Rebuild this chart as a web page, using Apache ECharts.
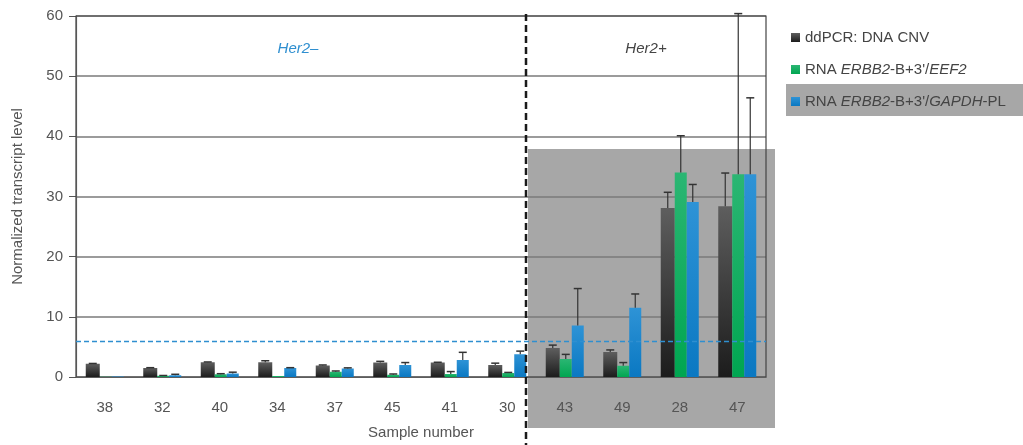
<!DOCTYPE html>
<html><head><meta charset="utf-8">
<script src="https://cdn.jsdelivr.net/npm/echarts@6/dist/echarts.min.js"></script>
<style>html,body{margin:0;padding:0;background:#fff}#c{width:1023px;height:445px}</style>
</head><body><div id="c"></div>
<script>
const categories = ['38','32','40','34','37','45','41','30','43','49','28','47'];
const dnaCnv   = [2.2, 1.5, 2.45, 2.45, 1.9, 2.4, 2.4, 2.0, 4.8, 4.14, 28.1, 28.4];
const dnaErr   = [0.05, 0.05, 0.05, 0.25, 0.1, 0.2, 0.05, 0.3, 0.5, 0.36, 2.6, 5.5];
const eef2     = [0.03, 0.2, 0.45, 0.15, 0.87, 0.38, 0.5, 0.65, 3.0, 1.85, 34.0, 33.7];
const eef2Err  = [0, 0.05, 0.1, 0, 0.13, 0.12, 0.4, 0.11, 0.76, 0.55, 6.1, 26.7];
const gapdh    = [0.1, 0.3, 0.6, 1.5, 1.42, 2.0, 2.83, 3.8, 8.55, 11.5, 29.1, 33.7];
const gapdhErr = [0, 0.15, 0.2, 0.05, 0.1, 0.4, 1.27, 0.5, 6.15, 2.3, 2.9, 12.7];
const yTicks = [0, 10, 20, 30, 40, 50, 60];
const threshold = 6;
const seriesNames = ['ddPCR: DNA CNV', "RNA ERBB2-B+3'/EEF2", "RNA ERBB2-B+3'/GAPDH-PL"];
const groupLabels = ['Her2\u2013', 'Her2+'];
const highlightTop = 37.9;

const FONT = 'Liberation Sans';
const TXT = '#555';
function grad(top, bottom) {
  return new echarts.graphic.LinearGradient(0, 0, 0, 1, [{offset: 0, color: top}, {offset: 1, color: bottom}]);
}
const colBlack = grad('#5e5e5e', '#1c1c1c');
const colGreen = grad('#2bb673', '#00a651');
const colBlue = grad('#2e93d6', '#0a78c2');

const widths = [14, 12, 12];
const offsets = [-12, 1, 13];

function errSeries(vals, errs, idx) {
  return {
    type: 'custom', silent: true, clip: false, z: 3,
    data: vals.map((v, i) => [i, v, errs[i]]),
    renderItem: function (params, api) {
      const i = api.value(0), v = api.value(1), e = api.value(2);
      if (!(e > 0)) return null;
      const c = api.coord([i, v]);
      const t = api.coord([i, v + e]);
      const x = c[0] + offsets[idx];
      return {
        type: 'group', children: [
          {type: 'line', shape: {x1: x, y1: c[1], x2: x, y2: t[1]}, style: {stroke: '#333', lineWidth: 1.2}},
          {type: 'line', shape: {x1: x - 4, y1: t[1], x2: x + 4, y2: t[1]}, style: {stroke: '#333', lineWidth: 1.5}}
        ]
      };
    }
  };
}

const chart = echarts.init(document.getElementById('c'), null, {renderer: 'canvas'});
chart.setOption({
  animation: false,
  textStyle: {fontFamily: FONT},
  grid: {left: 76, top: 16, right: 257, bottom: 62, show: true, borderColor: '#444', borderWidth: 1.2, backgroundColor: 'transparent', z: 1},
  legend: {
    data: seriesNames, orient: 'vertical', left: 786, top: 25, itemGap: 17,
    icon: 'rect', itemWidth: 9, itemHeight: 9,
    textStyle: {fontFamily: FONT, fontSize: 15, color: '#444',
      rich: {i: {fontStyle: 'italic', fontSize: 15, color: '#444', fontFamily: FONT}}},
    formatter: function (n) {
      return n.replace('ERBB2', '{i|ERBB2}').replace('EEF2', '{i|EEF2}').replace('GAPDH', '{i|GAPDH}');
    }
  },
  xAxis: {
    type: 'category', data: categories,
    name: 'Sample number', nameLocation: 'middle', nameGap: 48,
    nameTextStyle: {fontSize: 15, color: TXT, fontFamily: FONT},
    axisLine: {lineStyle: {color: '#777', width: 1.2}},
    axisTick: {length: 9, lineStyle: {color: '#444'}},
    axisLabel: {fontSize: 15, color: TXT, margin: 23, fontFamily: FONT}
  },
  yAxis: {
    type: 'value', min: 0, max: 60, interval: 10,
    name: 'Normalized transcript level', nameLocation: 'middle', nameGap: 51, nameRotate: 90,
    nameTextStyle: {fontSize: 15, color: TXT, fontFamily: FONT},
    axisLine: {show: true, lineStyle: {color: '#777', width: 1.2}},
    axisTick: {show: true, length: 7, lineStyle: {color: '#555'}},
    axisLabel: {fontSize: 15, color: TXT, margin: 13, fontFamily: FONT,
      formatter: v => yTicks.includes(v) ? String(v) : ''},
    splitLine: {lineStyle: {color: '#7a7a7a', width: 1.5}}
  },
  series: [
    {name: seriesNames[0], type: 'bar', data: dnaCnv, barWidth: widths[0], barGap: '0%', itemStyle: {color: colBlack}},
    {name: seriesNames[1], type: 'bar', data: eef2, barWidth: widths[1], barGap: '0%', itemStyle: {color: colGreen}},
    {name: seriesNames[2], type: 'bar', data: gapdh, barWidth: widths[2], barGap: '0%', itemStyle: {color: colBlue},
      markLine: {silent: true, symbol: 'none', label: {show: false},
        lineStyle: {color: '#2f8fd0', type: [5, 3], width: 1.3}, data: [{yAxis: threshold}]}},
    errSeries(dnaCnv, dnaErr, 0),
    errSeries(eef2, eef2Err, 1),
    errSeries(gapdh, gapdhErr, 2)
  ]
});

const px = (i, v) => chart.convertToPixel({xAxisIndex: 0, yAxisIndex: 0}, [i, v]);
const p7 = px(7, 0), p8 = px(8, 0), p11 = px(11, 0);
const step = p8[0] - p7[0];
const boundary = (p7[0] + p8[0]) / 2;
const gridLeft = px(0, 0)[0] - step / 2;
const gridRight = p11[0] + step / 2;
const divider = boundary - 10;
const topY = px(0, highlightTop)[1];
const textY = px(0, 54.6)[1];
const topGrid = px(0, 60)[1];

chart.setOption({
  graphic: [
    {type: 'rect', z: -10, silent: true, shape: {x: boundary - 8, y: topY, width: gridRight + 9 - (boundary - 8), height: 428 - topY}, style: {fill: '#a7a7a7'}},
    {type: 'rect', z: -10, silent: true, shape: {x: 786, y: 84, width: 237, height: 32}, style: {fill: '#a7a7a7'}},
    {type: 'line', z: 50, silent: true, shape: {x1: divider, y1: topGrid - 2, x2: divider, y2: 445}, style: {stroke: '#1a1a1a', lineWidth: 2.5, lineDash: [7, 4]}},
    {type: 'text', z: 50, x: (gridLeft + divider) / 2 - 3, y: textY, style: {text: groupLabels[0], fontSize: 15, fontStyle: 'italic', fontFamily: FONT, fill: '#2f8fd0', align: 'center', verticalAlign: 'middle'}},
    {type: 'text', z: 50, x: (divider + gridRight) / 2, y: textY, style: {text: groupLabels[1], fontSize: 15, fontStyle: 'italic', fontFamily: FONT, fill: '#444', align: 'center', verticalAlign: 'middle'}}
  ]
});
</script></body></html>
